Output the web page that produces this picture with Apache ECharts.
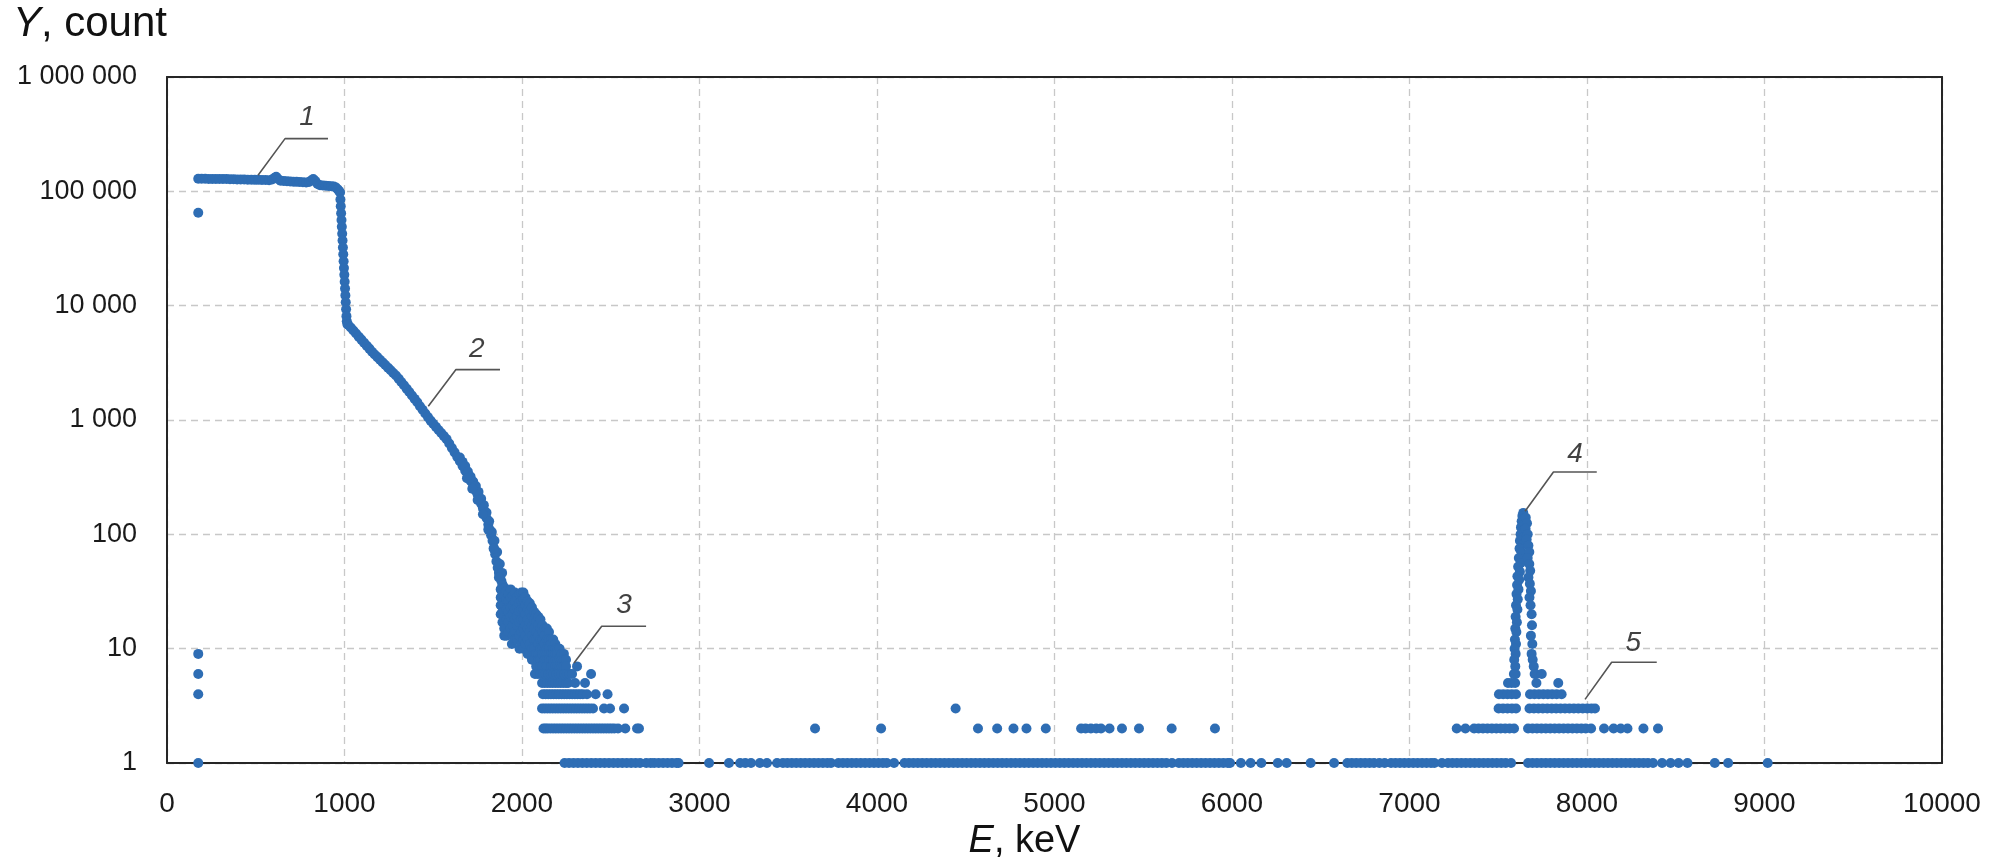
<!DOCTYPE html>
<html>
<head>
<meta charset="utf-8">
<title>Spectrum</title>
<script src="https://cdn.jsdelivr.net/npm/echarts@6/dist/echarts.min.js"></script>
<style>
  html, body { margin: 0; padding: 0; background: #ffffff; }
  #chart { width: 1992px; height: 867px; }
</style>
</head>
<body>
<div id="chart"></div>
<script>
// Energy axis ticks (keV)
const xTicks = [0, 1000, 2000, 3000, 4000, 5000, 6000, 7000, 8000, 9000, 10000];
// Count axis ticks (log scale)
const yTicks = [1, 10, 100, 1000, 10000, 100000, 1000000];

// Continuum: plateau, sharp edge and falling slope
const curveE = [
  176, 195, 215, 235, 255, 275, 295, 315, 335, 355, 375, 395, 415, 435, 455, 475, 495, 515, 535, 555,
  575, 592, 605, 615, 626, 640, 658, 676, 694, 712, 730, 748, 766, 784, 800, 812, 824, 836, 848, 862,
  878, 894, 910, 926, 940, 952, 962, 970,
  975, 977, 979, 981, 983, 985, 987, 989, 991, 993, 995, 997, 999, 1001, 1003, 1005, 1007, 1009, 1011, 1013, 1016,
  1020, 1035, 1050, 1065, 1080, 1095, 1110, 1125, 1140, 1155, 1170, 1185, 1200, 1215, 1230, 1245, 1260, 1275, 1290,
  1305, 1320, 1335, 1350, 1365, 1380, 1395, 1410, 1425, 1440, 1455, 1470, 1485, 1500, 1515, 1530, 1545, 1560, 1575,
  1590, 1605, 1620, 1635, 1650, 1665, 1680, 1695, 1710, 1725, 1740, 1750, 1760, 1770, 1780, 1790, 1800,
  1810, 1818, 1826, 1834, 1842, 1849, 1856, 1863, 1870, 1877, 1884, 1891
];
const curveY = [
  129000, 129000, 129000, 128500, 128500, 128500, 128000, 128000, 128000, 127500, 127500, 127000, 127000, 127000, 126500, 126500, 126000, 126000, 125500, 125500,
  125000, 127000, 131000, 134000, 128000, 124000, 123000, 122500, 122000, 121500, 121000, 120500, 120000, 119500, 120500, 124500, 128000, 123000, 116000, 113000,
  112500, 112000, 111500, 111000, 110000, 108000, 104000, 100500,
  97600, 84900, 74100, 64400, 56200, 48900, 42500, 37100, 32300, 28200, 24500, 21300, 18600, 16200, 14100, 12300, 10700, 9300, 8100, 7300, 6900,
  6800, 6440, 6060, 5700, 5360, 5050, 4750, 4470, 4210, 3960, 3740, 3550, 3370, 3190, 3030, 2870, 2720, 2580, 2450,
  2300, 2150, 2010, 1880, 1760, 1640, 1530, 1430, 1320, 1230, 1140, 1060, 988, 927, 871, 818, 769, 723, 680,
  624, 570, 521, 476, 435, 397, 360, 325, 294, 266, 241, 223, 203, 185, 168, 153, 139,
  122, 110, 98, 88, 76, 67, 58, 51, 46, 42, 39, 36
];

// Spread of the lower slope
const tailPts = [
  [1650, 470], [1665, 430], [1680, 395], [1695, 355], [1710, 320], [1725, 290], [1740, 265], [1755, 235],
  [1770, 205], [1785, 180], [1800, 155], [1815, 130], [1830, 105], [1845, 88], [1860, 70], [1875, 55], [1888, 46],
  [1690, 310], [1720, 250], [1750, 200], [1780, 150], [1810, 110], [1840, 75], [1870, 42]
];

// Scattered channels around 1.9–2.25 MeV
const clusterPts = [
  [1880, 33], [1880, 28], [1880, 24], [1880, 20],
  [1890, 36], [1890, 30], [1890, 25], [1890, 21], [1890, 17],
  [1900, 34], [1900, 29], [1900, 24], [1900, 19], [1900, 15], [1900, 13],
  [1912, 32], [1912, 27], [1912, 22], [1912, 18], [1912, 13],
  [1924, 30], [1924, 26], [1924, 21], [1924, 17], [1924, 14],
  [1936, 33], [1936, 28], [1936, 23], [1936, 19], [1936, 15], [1943, 11],
  [1948, 29], [1948, 24], [1948, 20], [1948, 16], [1948, 13],
  [1960, 31], [1960, 26], [1960, 22], [1960, 18], [1960, 14], [1960, 12],
  [1972, 28], [1972, 23], [1972, 19], [1972, 16], [1972, 12],
  [1984, 30], [1984, 25], [1984, 21], [1984, 17], [1984, 13], [1986, 10],
  [1996, 31], [1996, 26], [1996, 22], [1996, 18], [1996, 14], [1996, 11],
  [2008, 31], [2008, 27], [2008, 22], [2008, 18], [2008, 15], [2008, 12], [2008, 10], [2017, 28],
  [2020, 28], [2020, 24], [2020, 20], [2020, 16], [2020, 13], [2020, 11],
  [2032, 26], [2032, 22], [2032, 18], [2032, 15], [2032, 12], [2032, 9],
  [2044, 25], [2044, 21], [2044, 17], [2044, 14], [2044, 11], [2044, 9],
  [2056, 23], [2056, 19], [2056, 16], [2056, 13], [2056, 10], [2056, 8],
  [2068, 21], [2068, 18], [2068, 15], [2068, 12], [2068, 10], [2068, 8],
  [2080, 20], [2080, 17], [2080, 14], [2080, 12], [2080, 9], [2080, 7],
  [2092, 19], [2092, 16], [2092, 13], [2092, 11], [2092, 9], [2092, 8],
  [2104, 18], [2104, 15], [2104, 12], [2104, 10], [2104, 8], [2104, 7],
  [2116, 16], [2116, 14], [2116, 12], [2116, 10], [2116, 9], [2116, 7],
  [2128, 15], [2128, 13], [2128, 11], [2128, 9], [2128, 8],
  [2140, 15], [2140, 12], [2140, 10], [2140, 9], [2140, 8], [2140, 7],
  [2152, 14], [2152, 12], [2152, 10], [2152, 9], [2152, 8],
  [2164, 12], [2164, 11], [2164, 9], [2164, 8], [2164, 7],
  [2176, 12], [2176, 10], [2176, 9], [2176, 8], [2176, 7],
  [2188, 11], [2188, 10], [2188, 9], [2188, 8], [2188, 7],
  [2200, 10], [2200, 9], [2200, 8], [2200, 7],
  [2212, 10], [2212, 8], [2212, 7], [2224, 9], [2224, 8], [2224, 7],
  [2236, 9], [2236, 8], [2236, 7], [2248, 8], [2248, 7], [2310, 7]
];

// Full-energy peak near 7.64 MeV
const peakPts = [
  [7641, 154], [7636, 145], [7645, 138], [7632, 130], [7643, 122], [7628, 115], [7640, 108], [7626, 100],
  [7646, 95], [7622, 88], [7640, 82], [7620, 75], [7632, 69], [7616, 62], [7626, 56], [7612, 52],
  [7622, 47], [7608, 43], [7618, 40], [7606, 36], [7614, 33], [7603, 30], [7610, 27], [7600, 24],
  [7608, 22], [7598, 19], [7605, 17], [7596, 15], [7602, 14], [7594, 12], [7600, 11], [7592, 10],
  [7598, 9], [7590, 8], [7596, 7], [7588, 6], [7598, 6], [7555, 5], [7575, 5], [7595, 5],
  [7655, 140], [7662, 125], [7654, 112], [7666, 100], [7660, 90], [7670, 80], [7675, 70], [7666, 62],
  [7675, 55], [7680, 48], [7670, 42], [7678, 37], [7684, 32], [7676, 28], [7682, 24], [7688, 20],
  [7690, 16], [7684, 13], [7692, 11], [7688, 9], [7694, 8], [7700, 7], [7705, 6], [7712, 6],
  [7745, 6], [7715, 5], [7838, 5]
];

// Lowest-energy channel
const edgePts = [[176, 65000], [176, 9], [176, 6], [176, 4]];

// Channels holding a single small count, listed by energy
const row1E = [
  176, 2240, 2265, 2290, 2315, 2340, 2365, 2390, 2415, 2440, 2465, 2490, 2515, 2540, 2565, 2590, 2615, 2640, 2665,
  2700, 2725, 2745, 2770, 2795, 2820, 2845, 2870, 2882, 3054, 3166, 3229, 3258, 3290, 3340, 3380, 3437,
  3470, 3495, 3520, 3545, 3570, 3595, 3620, 3645, 3670, 3695, 3720, 3741,
  3783, 3808, 3833, 3858, 3883, 3908, 3933, 3958, 3983, 4008, 4033, 4055, 4096,
  4155, 4180, 4205, 4230, 4255, 4280, 4305, 4330, 4355, 4380, 4405, 4430, 4455, 4480, 4505, 4530, 4555, 4580,
  4605, 4630, 4655, 4680, 4705, 4730, 4755, 4780, 4805, 4830, 4855, 4880, 4905, 4930, 4955, 4980, 5005, 5030,
  5055, 5080, 5105, 5130, 5155, 5180, 5205, 5230, 5255, 5280, 5305, 5330, 5355, 5380, 5405, 5430, 5455, 5480,
  5505, 5530, 5555, 5580, 5605, 5630, 5662,
  5701, 5726, 5751, 5776, 5801, 5826, 5851, 5876, 5901, 5926, 5951, 5976, 5989,
  6050, 6105, 6165, 6258, 6308, 6443, 6575,
  6650, 6675, 6700, 6725, 6750, 6775, 6800, 6830, 6860,
  6896, 6921, 6946, 6971, 6996, 7021, 7046, 7071, 7096, 7121, 7140, 7183,
  7217, 7242, 7267, 7292, 7317, 7342, 7367, 7392, 7417, 7442, 7467, 7492, 7517, 7542, 7572,
  7668, 7693, 7718, 7743, 7768, 7793, 7818, 7843, 7868, 7893, 7918, 7943, 7968, 7993, 8018, 8043,
  8068, 8093, 8118, 8143, 8168, 8193, 8218, 8243, 8268, 8293, 8318, 8343, 8372,
  8423, 8471, 8516, 8566, 8720, 8795, 9018
];
const row2E = [
  2121, 2133, 2145, 2160, 2175, 2190, 2205, 2220, 2235, 2250, 2265, 2280, 2295, 2310, 2325, 2340, 2355, 2370,
  2385, 2400, 2415, 2430, 2445, 2460, 2475, 2490, 2505, 2520, 2541, 2582, 2648, 2659,
  3651, 4023, 4569, 4677, 4769, 4842, 4951, 5150, 5175, 5205, 5235, 5262, 5310, 5380, 5476, 5660, 5904,
  7266, 7315, 7364, 7389, 7414, 7439, 7464, 7489, 7514, 7539, 7564, 7589,
  7668, 7693, 7718, 7743, 7768, 7793, 7818, 7843, 7868, 7893, 7918, 7943, 7968, 7993, 8023,
  8096, 8150, 8190, 8228, 8318, 8400
];
const row3E = [
  2113, 2128, 2143, 2158, 2173, 2188, 2203, 2218, 2233, 2248, 2263, 2278, 2293, 2308, 2323, 2338, 2353, 2368,
  2383, 2400, 2462, 2496, 2575, 4443,
  7502, 7527, 7552, 7577, 7600,
  7676, 7701, 7726, 7751, 7776, 7801, 7826, 7851, 7876, 7901, 7926, 7951, 7976, 8001, 8025, 8045
];
const row4E = [
  2118, 2133, 2148, 2163, 2178, 2193, 2208, 2223, 2238, 2253, 2268, 2283, 2298, 2313, 2328, 2343, 2366,
  2415, 2482,
  7504, 7528, 7552, 7576, 7600, 7679, 7704, 7729, 7754, 7779, 7804, 7829, 7857
];
const row5E = [2113, 2128, 2143, 2158, 2173, 2188, 2203, 2218, 2233, 2248, 2260, 2299, 2355];
const row6E = [2073, 2088, 2103, 2118, 2133, 2148, 2163, 2178, 2193, 2208, 2223, 2238, 2253, 2268, 2282, 2389];

// Numbered callouts: leader line (tip -> elbow -> end) and number position, in data units
const calloutNums = ['1', '2', '3', '4', '5'];
const calloutTip = [[513, 138000], [1472, 1318], [2293, 7.5], [7651, 159], [7989, 3.6]];
const calloutElbow = [[665, 289000], [1628, 2760], [2449, 15.7], [7811, 351], [8139, 7.6]];
const calloutEnd = [[907, 289000], [1876, 2760], [2699, 15.7], [8055, 351], [8393, 7.6]];
const calloutText = [[789, 442000], [1745, 4130], [2575, 23.8], [7932, 498], [8261, 11.2]];

// Assemble the scatter data
const points = [];
curveE.forEach((e, i) => points.push([e, curveY[i]]));
[tailPts, clusterPts, peakPts, edgePts].forEach(list => list.forEach(p => points.push(p)));
[[row1E, 1], [row2E, 2], [row3E, 3], [row4E, 4], [row5E, 5], [row6E, 6]].forEach(([list, c]) =>
  list.forEach(e => points.push([e, c])));

const sansFont = '"Liberation Sans", Arial, sans-serif';
const gridDash = { color: '#c8c8c8', width: 1.3, type: [7, 5] };
const frameLine = { show: true, onZero: false, lineStyle: { color: '#262626', width: 2 } };

function spaced(v) {
  return String(Math.round(v)).replace(/\B(?=(\d{3})+(?!\d))/g, ' ');
}

const leaderSeries = calloutNums.map((n, i) => ({
  type: 'line',
  data: [calloutTip[i], calloutElbow[i], calloutEnd[i]],
  showSymbol: false,
  symbol: 'none',
  silent: true,
  z: 5,
  lineStyle: { color: '#555555', width: 1.6 },
  animation: false
}));

const option = {
  backgroundColor: '#ffffff',
  animation: false,
  grid: {
    left: 167, right: 50, top: 77, bottom: 104,
    show: true, borderWidth: 0, backgroundColor: '#ffffff'
  },
  xAxis: [
    {
      type: 'value',
      min: xTicks[0], max: xTicks[xTicks.length - 1], interval: 1000,
      name: '{i|E}, keV',
      nameLocation: 'middle',
      nameGap: 78,
      nameTextStyle: {
        fontFamily: sansFont, fontSize: 38, color: '#111', verticalAlign: 'middle',
        padding: [0, 60, 0, 0],
        rich: { i: { fontStyle: 'italic', fontFamily: sansFont, fontSize: 38, color: '#111' } }
      },
      axisLine: frameLine,
      axisTick: { show: false },
      axisLabel: { fontFamily: sansFont, fontSize: 28, color: '#1a1a1a', margin: 27, formatter: v => String(Math.round(v)) },
      splitLine: { show: true, lineStyle: gridDash }
    },
    {
      // top edge of the frame
      type: 'value', position: 'top',
      min: xTicks[0], max: xTicks[xTicks.length - 1], interval: 1000,
      axisLine: frameLine, axisTick: { show: false }, axisLabel: { show: false }, splitLine: { show: false }
    }
  ],
  yAxis: [
    {
      type: 'log', logBase: 10,
      min: yTicks[0], max: yTicks[yTicks.length - 1],
      name: '{i|Y}, count',
      nameLocation: 'end',
      nameGap: 53,
      nameTextStyle: {
        fontFamily: sansFont, fontSize: 42, color: '#111', align: 'right', verticalAlign: 'middle',
        rich: { i: { fontStyle: 'italic', fontFamily: sansFont, fontSize: 42, color: '#111' } }
      },
      axisLine: frameLine,
      axisTick: { show: false },
      axisLabel: { fontFamily: sansFont, fontSize: 27, color: '#1a1a1a', margin: 30, formatter: spaced },
      splitLine: { show: true, lineStyle: gridDash },
      minorSplitLine: { show: false }
    },
    {
      // right edge of the frame
      type: 'log', logBase: 10, position: 'right',
      min: yTicks[0], max: yTicks[yTicks.length - 1],
      axisLine: frameLine, axisTick: { show: false }, axisLabel: { show: false }, splitLine: { show: false }
    }
  ],
  series: [
    {
      type: 'scatter',
      data: points,
      symbol: 'circle',
      symbolSize: 10,
      itemStyle: { color: '#2e6db4', opacity: 1 },
      z: 3,
      animation: false
    },
    ...leaderSeries,
    {
      type: 'scatter',
      data: calloutText.map((p, i) => ({ value: p, name: calloutNums[i] })),
      symbolSize: 0,
      silent: true,
      z: 6,
      label: {
        show: true, position: 'inside', formatter: '{b}',
        fontFamily: sansFont, fontStyle: 'italic', fontSize: 28, color: '#111'
      },
      animation: false
    }
  ]
};

const chart = echarts.init(document.getElementById('chart'), null, { renderer: 'canvas' });
chart.setOption(option);
</script>
</body>
</html>
